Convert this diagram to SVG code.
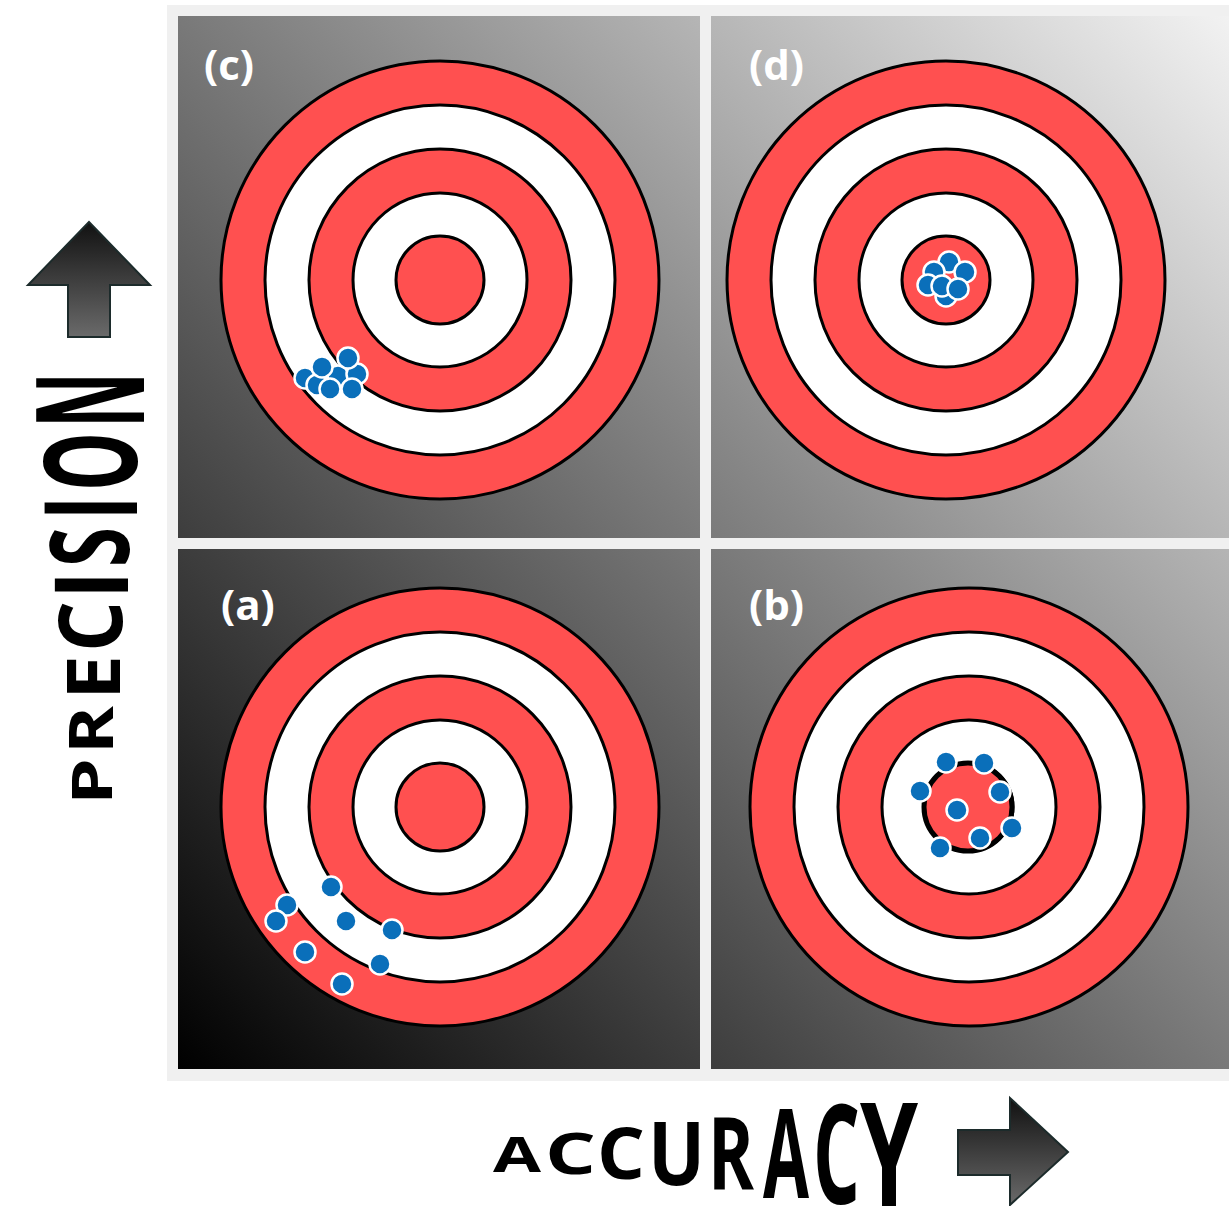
<svg xmlns="http://www.w3.org/2000/svg" width="1229" height="1206" viewBox="0 0 1229 1206">
<defs>
<linearGradient id="bg" gradientUnits="userSpaceOnUse" x1="178" y1="1069" x2="1229" y2="16">
<stop offset="0" stop-color="#000"/>
<stop offset="1" stop-color="#f2f2f2"/>
</linearGradient>
<linearGradient id="arrV" x1="0" y1="0" x2="0" y2="1">
<stop offset="0" stop-color="#111"/>
<stop offset="1" stop-color="#6a6a6a"/>
</linearGradient>
<style>
.ring{stroke:#000;stroke-width:3}
.r{fill:#ff5050}
.w{fill:#fff}
.dot{fill:#0a6fba;stroke:#fff;stroke-width:2.5}
.lbl{font-family:"Open Sans","DejaVu Sans",sans-serif;font-weight:bold;font-size:42px;fill:#fff}
.ax{font-family:"Open Sans","DejaVu Sans",sans-serif;font-weight:bold;fill:#000}
.arrow{fill:url(#arrV);stroke:#1c2b2b;stroke-width:2}
</style>
<g id="target">
<circle r="219" class="r ring"/>
<circle r="175" class="w ring"/>
<circle r="131" class="r ring"/>
<circle r="87" class="w ring"/>
<circle r="44" class="r ring"/>
</g>
</defs>
<rect x="167" y="5" width="1070" height="1076" fill="#f0f0f0"/>
<g id="panel-c">
<rect x="178" y="16" width="522" height="522" fill="url(#bg)"/>
<use href="#target" x="440" y="280"/>
<text class="lbl" x="204" y="80">(c)</text>
<g>
<circle class="dot" cx="305" cy="378" r="10.5"/>
<circle class="dot" cx="317" cy="385" r="10.5"/>
<circle class="dot" cx="338" cy="376" r="10.5"/>
<circle class="dot" cx="322" cy="367" r="10.5"/>
<circle class="dot" cx="357" cy="374" r="10.5"/>
<circle class="dot" cx="348" cy="358" r="10.5"/>
<circle class="dot" cx="330" cy="389" r="10.5"/>
<circle class="dot" cx="352" cy="389" r="10.5"/>
</g>
</g>
<g id="panel-d">
<rect x="711" y="16" width="530" height="522" fill="url(#bg)"/>
<use href="#target" x="946" y="280"/>
<text class="lbl" x="749" y="80">(d)</text>
<g>
<circle class="dot" cx="946" cy="296" r="10.5"/>
<circle class="dot" cx="949" cy="262" r="10.5"/>
<circle class="dot" cx="965" cy="272" r="10.5"/>
<circle class="dot" cx="934" cy="272" r="10.5"/>
<circle class="dot" cx="928" cy="285" r="10.5"/>
<circle class="dot" cx="942" cy="286" r="10.5"/>
<circle class="dot" cx="958" cy="289" r="10.5"/>
</g>
</g>
<g id="panel-a">
<rect x="178" y="549" width="522" height="520" fill="url(#bg)"/>
<use href="#target" x="440" y="807"/>
<text class="lbl" x="221" y="620">(a)</text>
<g>
<circle class="dot" cx="331" cy="887" r="10.5"/>
<circle class="dot" cx="287" cy="905" r="10.5"/>
<circle class="dot" cx="276" cy="921" r="10.5"/>
<circle class="dot" cx="346" cy="921" r="10.5"/>
<circle class="dot" cx="392" cy="930" r="10.5"/>
<circle class="dot" cx="305" cy="952" r="10.5"/>
<circle class="dot" cx="380" cy="964" r="10.5"/>
<circle class="dot" cx="342" cy="984" r="10.5"/>
</g>
</g>
<g id="panel-b">
<rect x="711" y="549" width="530" height="520" fill="url(#bg)"/>
<use href="#target" x="969" y="807"/>
<circle cx="968" cy="807" r="44" fill="#ff5050" stroke="#000" stroke-width="5"/>
<text class="lbl" x="749" y="620">(b)</text>
<g>
<circle class="dot" cx="946" cy="762" r="10.5"/>
<circle class="dot" cx="984" cy="763" r="10.5"/>
<circle class="dot" cx="920" cy="791" r="10.5"/>
<circle class="dot" cx="1000" cy="792" r="10.5"/>
<circle class="dot" cx="957" cy="810" r="10.5"/>
<circle class="dot" cx="1012" cy="828" r="10.5"/>
<circle class="dot" cx="980" cy="838" r="10.5"/>
<circle class="dot" cx="940" cy="848" r="10.5"/>
</g>
</g>
<g id="axis-precision">
<path class="arrow" d="M89,222 L150,285 L110,285 L110,337 L68,337 L68,285 L28,285 Z"/>
<text class="ax" transform="rotate(-90)"><tspan x="-805" y="112" font-size="55" textLength="47" lengthAdjust="spacingAndGlyphs">P</tspan><tspan x="-754" y="113" font-size="60" textLength="48" lengthAdjust="spacingAndGlyphs">R</tspan><tspan x="-700" y="120" font-size="74" textLength="45" lengthAdjust="spacingAndGlyphs">E</tspan><tspan x="-652" y="122" font-size="88" textLength="51" lengthAdjust="spacingAndGlyphs">C</tspan><tspan x="-599" y="128" font-size="102" textLength="28" lengthAdjust="spacingAndGlyphs">I</tspan><tspan x="-567" y="129" font-size="109" textLength="40" lengthAdjust="spacingAndGlyphs">S</tspan><tspan x="-520" y="137" font-size="130" textLength="24" lengthAdjust="spacingAndGlyphs">I</tspan><tspan x="-491" y="137" font-size="130" textLength="59" lengthAdjust="spacingAndGlyphs">O</tspan><tspan x="-428" y="144" font-size="151" textLength="56" lengthAdjust="spacingAndGlyphs">N</tspan></text>
</g>
<g id="axis-accuracy">
<path class="arrow" d="M958,1130 L1010,1130 L1010,1098 L1068,1152 L1010,1205 L1010,1175 L958,1175 Z"/>
<text class="ax"><tspan x="493" y="1172" font-size="49" textLength="48" lengthAdjust="spacingAndGlyphs">A</tspan><tspan x="545" y="1174" font-size="57" textLength="51" lengthAdjust="spacingAndGlyphs">C</tspan><tspan x="597" y="1179" font-size="71" textLength="48" lengthAdjust="spacingAndGlyphs">C</tspan><tspan x="648" y="1185" font-size="88" textLength="57" lengthAdjust="spacingAndGlyphs">U</tspan><tspan x="708" y="1190" font-size="101" textLength="46" lengthAdjust="spacingAndGlyphs">R</tspan><tspan x="763" y="1198" font-size="123" textLength="46" lengthAdjust="spacingAndGlyphs">A</tspan><tspan x="813" y="1204" font-size="139" textLength="47" lengthAdjust="spacingAndGlyphs">C</tspan><tspan x="860" y="1207" font-size="146" textLength="58" lengthAdjust="spacingAndGlyphs">Y</tspan></text>
</g>
</svg>
